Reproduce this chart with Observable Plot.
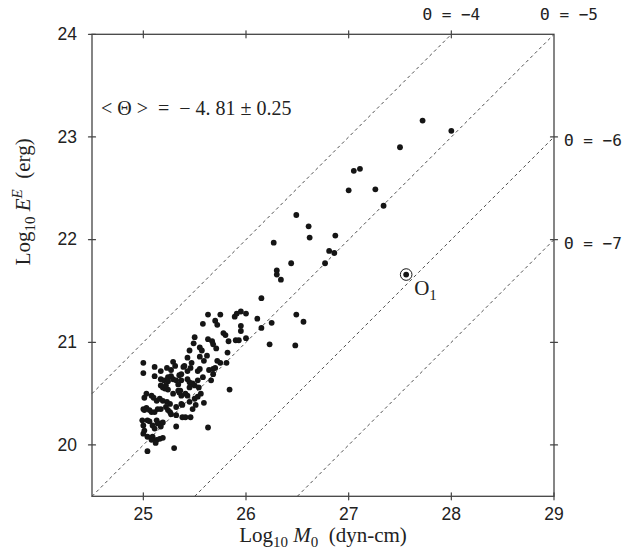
<!DOCTYPE html>
<html>
<head>
<meta charset="utf-8">
<script src="https://cdn.jsdelivr.net/npm/d3@7"></script>
<script src="https://cdn.jsdelivr.net/npm/@observablehq/plot@0.6"></script>
<style>
  html, body { margin: 0; padding: 0; background: #fff; }
  #chart svg { display: block; }
</style>
</head>
<body>
<div id="chart"></div>
<script>
// ---- data ----
const logM0 = [
  25.00,25.11,25.17,25.23,25.27,25.29,25.31,25.35,25.39,25.43,25.40,25.43,25.46,25.53,25.55,25.64,25.68,25.70,25.75,25.81,
  25.72,25.59,25.62,25.55,25.45,25.55,25.57,25.47,25.82,25.50,25.49,25.63,25.67,25.68,25.71,25.83,25.90,25.93,26.00,26.23,
  26.48,25.58,25.70,25.72,25.78,25.80,25.95,25.95,26.15,26.25,25.63,25.75,25.89,25.91,25.95,26.00,26.11,26.49,26.56,26.15,
  26.34,26.30,26.30,26.44,26.27,26.49,26.61,26.62,26.87,26.81,26.86,26.77,27.00,27.26,27.34,27.05,27.11,27.50,27.72,28.00,
  25.84,25.59,25.63,25.58,25.68,25.66,25.17,25.20,25.24,25.24,25.27,25.29,25.32,25.37,25.37,25.43,25.45,25.48,25.53,25.50,
  25.00,25.11,25.19,25.21,25.24,25.34,25.36,25.34,25.41,25.43,25.45,25.54,25.17,25.22,25.03,25.01,25.08,25.10,25.13,25.16,
  25.19,25.23,25.26,25.29,25.37,25.35,25.37,25.38,25.45,25.50,25.53,25.56,25.00,25.03,25.01,25.06,25.08,25.11,25.14,25.17,
  25.22,25.24,25.26,25.27,25.32,25.32,25.38,25.41,25.46,25.48,25.51,24.99,25.00,25.01,25.00,25.04,25.06,25.09,25.11,25.13,
  25.14,25.17,25.19,25.17,25.32,25.09,25.13,25.16,25.19,25.04,25.08,25.12,25.30,25.04
];
const logE = [
  20.80,20.76,20.72,20.75,20.73,20.81,20.77,20.68,20.76,20.85,20.77,20.72,20.75,20.72,20.74,20.73,20.74,20.75,20.80,20.80,
  20.82,20.82,20.87,20.86,20.92,20.95,20.92,20.80,20.90,21.05,20.99,21.03,21.01,20.98,20.94,21.01,21.02,21.02,21.04,20.98,
  20.97,21.18,21.21,21.17,21.09,21.07,21.16,21.11,21.14,21.19,21.27,21.27,21.25,21.28,21.30,21.28,21.23,21.27,21.20,21.43,
  21.61,21.66,21.70,21.77,21.97,22.24,22.13,22.02,22.04,21.89,21.87,21.77,22.48,22.49,22.33,22.67,22.69,22.90,23.16,23.06,
  20.54,20.41,20.17,20.66,20.69,20.63,20.64,20.63,20.62,20.66,20.67,20.64,20.63,20.63,20.69,20.64,20.61,20.60,20.63,20.58,
  20.70,20.67,20.56,20.55,20.54,20.53,20.53,20.59,20.50,20.48,20.56,20.56,20.58,20.58,20.50,20.46,20.48,20.46,20.43,20.45,
  20.43,20.42,20.40,20.50,20.48,20.51,20.40,20.39,20.42,20.45,20.47,20.50,20.35,20.36,20.34,20.34,20.32,20.32,20.35,20.35,
  20.37,20.34,20.32,20.30,20.37,20.29,20.27,20.27,20.27,20.35,20.39,20.24,20.19,20.14,20.11,20.24,20.23,20.19,20.16,20.24,
  20.21,20.21,20.22,20.18,20.18,20.08,20.05,20.06,20.07,20.08,20.05,20.02,19.97,19.94
];
const o1M0 = [27.56];
const o1E = [21.66];
const o1Label = ["O1"];
const thetas = [-4, -5, -6, -7];
const thetaLabels = ["Θ = −4", "Θ = −5", "Θ = −6", "Θ = −7"];
const xTicks = [25, 26, 27, 28, 29];
const yTicks = [20, 21, 22, 23, 24];
const xDomain = [24.5, 29];
const yDomain = [19.5, 24];
const meanText = "<Θ> = −4.81 ± 0.25";
const xLabelKey = "XLABEL";
const yLabelKey = "YLABEL";

// ---- derived tables ----
const points = logM0.map((m, i) => ({m, e: logE[i]}));
const o1 = o1M0.map((m, i) => ({m, e: o1E[i], label: o1Label[i]}));
const lines = thetas.map((t, i) => {
  const xa = Math.max(xDomain[0], yDomain[0] - t);
  const xb = Math.min(xDomain[1], yDomain[1] - t);
  return {t, label: thetaLabels[i], x1: xa, y1: xa + t, x2: xb, y2: xb + t};
});
const topLabels = lines.filter(d => d.y2 >= yDomain[1]);
const rightLabels = lines.filter(d => d.y2 < yDomain[1]);

const tickShape = {draw(ctx, l) { ctx.moveTo(0, 0); ctx.lineTo(0, -l); }};
const axisColor = "#444";
const sans = "'Liberation Sans', Arial, sans-serif";
const serif = "'Liberation Serif', 'Times New Roman', serif";
const mono = "'DejaVu Sans Mono', monospace";

const chart = Plot.plot({
  width: 630,
  height: 558,
  marginLeft: 91.5,
  marginRight: 76.5,
  marginTop: 33.8,
  marginBottom: 62.2,
  x: {domain: xDomain, axis: null},
  y: {domain: yDomain, axis: null},
  style: {background: "#fff", overflow: "visible"},
  marks: [
    Plot.link(lines, {x1: "x1", y1: "y1", x2: "x2", y2: "y2", stroke: "#222", strokeWidth: 0.8, strokeDasharray: "3.2,3"}),
    Plot.frame({stroke: axisColor, strokeWidth: 1.3}),
    Plot.vector(xTicks, {x: d => d, frameAnchor: "bottom", length: 7, rotate: 0, shape: tickShape, stroke: axisColor, strokeWidth: 1.2}),
    Plot.vector(xTicks.slice(0, -1), {x: d => d, frameAnchor: "top", length: 7, rotate: 180, shape: tickShape, stroke: axisColor, strokeWidth: 1.2}),
    Plot.vector(yTicks, {y: d => d, frameAnchor: "left", length: 7, rotate: 90, shape: tickShape, stroke: axisColor, strokeWidth: 1.2}),
    Plot.vector(yTicks.slice(0, -1), {y: d => d, frameAnchor: "right", length: 7, rotate: -90, shape: tickShape, stroke: axisColor, strokeWidth: 1.2}),
    Plot.text(xTicks, {x: d => d, frameAnchor: "bottom", dy: 24, text: d => String(d), fontSize: 17.5, fontFamily: sans, fill: "#222"}),
    Plot.text(yTicks, {y: d => d, frameAnchor: "left", dx: -15, textAnchor: "end", text: d => String(d), fontSize: 17.5, fontFamily: sans, fill: "#222"}),
    Plot.dot(points, {x: "m", y: "e", r: 2.9, fill: "#151515", stroke: "none"}),
    Plot.dot(o1, {x: "m", y: "e", r: 5.8, fill: "#fff", stroke: "#151515", strokeWidth: 1}),
    Plot.dot(o1, {x: "m", y: "e", r: 2.9, fill: "#151515", stroke: "none"}),
    Plot.text(o1, {x: "m", y: "e", text: "label", dx: 8, dy: 14, textAnchor: "start", fontSize: 21, fontFamily: serif, fill: "#222"}),
    Plot.text(topLabels, {x: "x2", y: "y2", text: "label", dy: -19, fontSize: 16, fontFamily: mono, fill: "#222"}),
    Plot.text(rightLabels, {x: "x2", y: "y2", text: "label", dx: 10, dy: 4, textAnchor: "start", fontSize: 16, fontFamily: mono, fill: "#222"}),
    Plot.text([meanText], {frameAnchor: "top-left", dx: 9, dy: 66, textAnchor: "start", text: d => d, fontSize: 20, fontFamily: serif, fill: "#222"}),
    Plot.text([xLabelKey], {frameAnchor: "bottom", dy: 46, text: d => d, fontSize: 21, fontFamily: serif, fill: "#222"}),
    Plot.text([yLabelKey], {frameAnchor: "left", dx: -69, rotate: -90, text: d => d, fontSize: 21, fontFamily: serif, fill: "#222"})
  ]
});

// shift the Θ = −5 label a bit right, as in the reference
d3.select(chart).selectAll("text").filter(function() { return this.textContent === thetaLabels[1]; })
  .attr("dx", 15);

function rich(key, parts) {
  d3.select(chart).selectAll("text").filter(function() { return this.textContent === key; }).each(function() {
    const t = d3.select(this);
    t.selectAll("*").remove();
    t.text(null);
    t.style("white-space", "pre");
    let shift = 0;
    parts.forEach(p => {
      const s = t.append("tspan").text(p.t);
      const target = p.sub ? 5 : p.sup ? -8 : 0;
      s.attr("dy", target - shift);
      shift = target;
      if (p.sub || p.sup) s.attr("font-size", 15);
      if (p.it) s.attr("font-style", "italic");
    });
  });
}
rich(xLabelKey, [{t: "Log"}, {t: "10", sub: true}, {t: " "}, {t: "M", it: true}, {t: "0", sub: true}, {t: "  (dyn-cm)"}]);
rich(yLabelKey, [{t: "Log"}, {t: "10", sub: true}, {t: " "}, {t: "E", it: true}, {t: "E", sup: true, it: true}, {t: "  (erg)"}]);
rich(o1Label[0], [{t: "O"}, {t: "1", sub: true}]);
rich(meanText, [{t: "< Θ >  =  − 4."}, {t: " 81 ± 0.25"}]);

document.getElementById("chart").append(chart);
</script>
</body>
</html>
